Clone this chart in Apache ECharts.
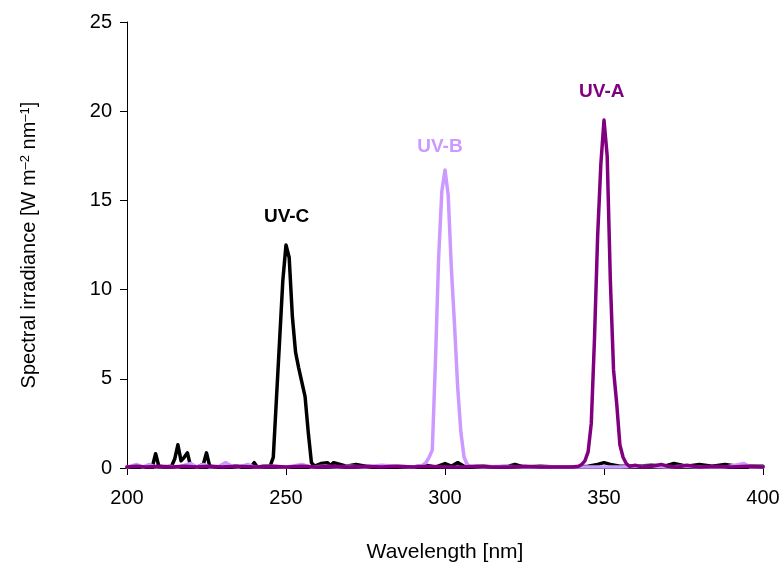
<!DOCTYPE html>
<html>
<head>
<meta charset="utf-8">
<script src="https://cdn.jsdelivr.net/npm/echarts@6/dist/echarts.min.js"></script>
<style>html,body{margin:0;padding:0;background:#fff}#c{width:784px;height:568px}</style>
</head>
<body>
<div id="c"></div>
<script>
// Wavelength [nm], spectral irradiance [W m-2 nm-1]
const uvcData = [[200,0.05],[202,0.05],[204,0.05],[206,0.05],[208,0.1],[209,0.8],[210,0.1],[212,0.05],[214,0.1],[215,0.5],[216,1.3],[217,0.4],[218,0.6],[219,0.85],[220,0.1],[222,0.05],[224,0.2],[225,0.85],[226,0.1],[228,0.05],[230,0.05],[232,0.05],[234,0.1],[236,0.05],[238,0.1],[239,0.05],[240,0.3],[241,0.05],[243,0.1],[245,0.1],[246,0.6],[247,3.9],[248,7.2],[249,10.5],[250,12.5],[251,11.8],[252,8.5],[253,6.5],[254,5.6],[255,4.8],[256,4.0],[257,2.0],[258,0.3],[259,0.1],[261,0.25],[263,0.3],[264,0.15],[265,0.3],[267,0.2],[269,0.1],[272,0.2],[275,0.1],[278,0.05],[282,0.1],[286,0.05],[290,0.05],[294,0.15],[297,0.05],[300,0.25],[302,0.1],[304,0.3],[306,0.1],[308,0.05],[312,0.1],[316,0.05],[320,0.1],[322,0.2],[325,0.05],[330,0.1],[335,0.05],[340,0.05],[345,0.1],[348,0.2],[350,0.3],[352,0.2],[355,0.1],[360,0.1],[365,0.15],[369,0.1],[372,0.25],[376,0.1],[380,0.2],[384,0.1],[388,0.2],[392,0.1],[396,0.1],[400,0.1]];
const uvbData = [[200,0.05],[203,0.2],[205,0.05],[207,0.2],[209,0.05],[213,0.1],[216,0.05],[220,0.25],[222,0.05],[224,0.2],[226,0.05],[229,0.1],[231,0.3],[233,0.1],[235,0.05],[238,0.2],[240,0.05],[245,0.1],[250,0.05],[255,0.2],[258,0.05],[262,0.1],[266,0.05],[270,0.1],[275,0.05],[280,0.15],[285,0.1],[290,0.05],[293,0.15],[294,0.3],[295,0.6],[296,1.0],[297,6.0],[298,11.8],[299,15.5],[300,16.7],[301,15.3],[302,11.2],[303,8.0],[304,4.5],[305,2.0],[306,0.6],[307,0.2],[308,0.1],[312,0.05],[318,0.1],[325,0.05],[335,0.05],[345,0.05],[355,0.05],[362,0.1],[370,0.05],[375,0.1],[380,0.05],[388,0.05],[394,0.25],[396,0.05],[400,0.05]];
const uvaData = [[200,0.05],[203,0.1],[206,0.05],[210,0.1],[214,0.05],[218,0.1],[222,0.05],[226,0.1],[230,0.05],[235,0.1],[240,0.05],[246,0.1],[250,0.05],[255,0.1],[260,0.05],[265,0.1],[270,0.05],[275,0.1],[280,0.05],[285,0.1],[290,0.05],[295,0.1],[300,0.05],[305,0.05],[310,0.1],[315,0.05],[320,0.05],[325,0.1],[330,0.05],[335,0.05],[340,0.05],[342,0.1],[343,0.2],[344,0.4],[345,0.9],[346,2.5],[347,7.2],[348,13.0],[349,17.0],[350,19.5],[351,17.5],[352,10.5],[353,5.5],[354,3.6],[355,1.3],[356,0.6],[357,0.25],[358,0.1],[360,0.15],[362,0.05],[365,0.1],[368,0.2],[370,0.1],[373,0.05],[376,0.15],[380,0.05],[385,0.1],[390,0.05],[395,0.1],[400,0.05]];
const seriesNames = ['UV-C', 'UV-B', 'UV-A'];
const seriesColors = ['#000000', '#CC99FF', '#800080'];
// label anchor points in data coordinates [wavelength, irradiance]
const labelCoords = [[250.2, 14.1], [298.4, 18.0], [349.3, 21.1]];
const xTicks = [200, 250, 300, 350, 400];
const yTicks = [0, 5, 10, 15, 20, 25];

const allData = [uvcData, uvbData, uvaData];
const FONT = 'Liberation Sans, Arial, sans-serif';
const chart = echarts.init(document.getElementById('c'), null, {renderer: 'canvas'});
chart.setOption({
  animation: false,
  backgroundColor: '#fff',
  textStyle: {fontFamily: FONT},
  grid: {left: 127, right: 21, top: 22, bottom: 100, containLabel: false},
  xAxis: {
    type: 'value', min: xTicks[0], max: xTicks[xTicks.length - 1], interval: 50,
    name: 'Wavelength [nm]', nameLocation: 'middle', nameGap: 74,
    nameTextStyle: {fontSize: 21, color: '#000', fontFamily: FONT},
    axisLine: {show: true, lineStyle: {color: '#000', width: 1}},
    axisTick: {show: true, inside: false, length: 7, lineStyle: {color: '#000'}},
    axisLabel: {fontSize: 20, color: '#000', margin: 20, fontFamily: FONT},
    splitLine: {show: false}
  },
  yAxis: {
    type: 'value', min: yTicks[0], max: yTicks[yTicks.length - 1], interval: 5,
    name: 'Spectral irradiance [W m{sup|\u20132} nm{sup|\u20131}]',
    nameLocation: 'middle', nameGap: 88, nameRotate: 90,
    nameTextStyle: {
      fontSize: 20, color: '#000', fontFamily: FONT,
      rich: {sup: {fontSize: 13, color: '#000', fontFamily: FONT, verticalAlign: 'top', lineHeight: 12}}
    },
    axisLine: {show: true, lineStyle: {color: '#000', width: 1}},
    axisTick: {show: true, inside: false, length: 7, lineStyle: {color: '#000'}},
    axisLabel: {fontSize: 20, color: '#000', margin: 15, fontFamily: FONT},
    splitLine: {show: false}
  },
  series: allData.map((d, i) => ({
    type: 'line', name: seriesNames[i], data: d, showSymbol: false, symbol: 'none',
    lineStyle: {color: seriesColors[i], width: 3.5, join: 'round', cap: 'round'}, itemStyle: {color: seriesColors[i]},
    z: 2 + i,
    markPoint: {
      symbol: 'circle', symbolSize: 0,
      data: [{coord: labelCoords[i], value: seriesNames[i]}],
      label: {show: true, position: 'inside', formatter: seriesNames[i], color: seriesColors[i],
              fontSize: 19, fontWeight: 'bold', fontFamily: FONT}
    }
  }))
});
</script>
</body>
</html>
